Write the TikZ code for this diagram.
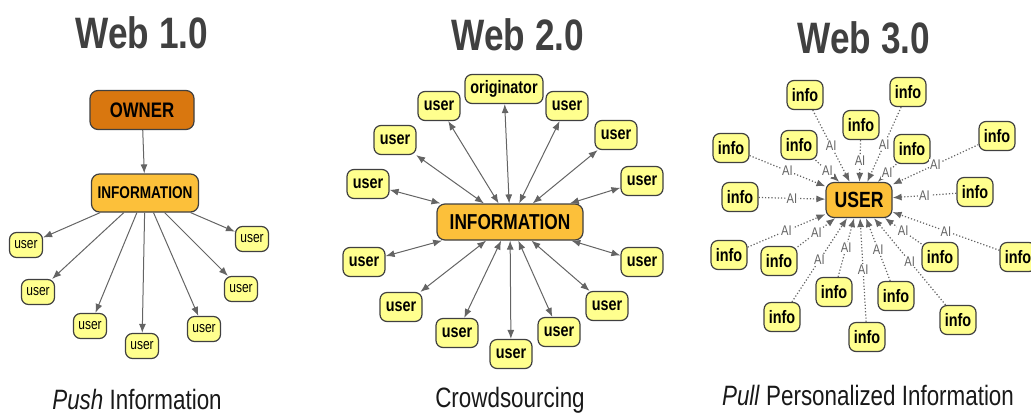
\documentclass[tikz,border=0pt]{standalone}
\usepackage{fontspec}
\setmainfont{Liberation Sans}[FakeStretch=0.8]
\usetikzlibrary{arrows.meta}
\definecolor{OwnerOrange}{RGB}{217,119,15}
\definecolor{InfoGold}{RGB}{252,192,58}
\definecolor{NoteYellow}{RGB}{255,255,142}
\definecolor{EdgeGray}{RGB}{100,100,100}
\definecolor{TitleGray}{RGB}{64,64,64}

\begin{document}
\begin{tikzpicture}[x=0.5pt,y=-0.5pt,>={Latex[length=4.5pt,width=3.5pt]},
  box/.style={draw=black!75,line width=.6pt,rounded corners=3.5pt,inner sep=0pt},
  owner/.style={box,fill=OwnerOrange,rounded corners=4pt,minimum width=52pt,minimum height=19.5pt,font=\bfseries\fontsize{10.5}{12}\selectfont},
  hub/.style={box,fill=InfoGold,rounded corners=4pt,minimum width=53.5pt,minimum height=19pt,font=\bfseries\fontsize{8.5}{10}\selectfont},
  leaf/.style={box,fill=NoteYellow,minimum width=21pt,minimum height=14.5pt,font=\bfseries\fontsize{9}{10}\selectfont},
  smallleaf/.style={box,fill=NoteYellow,minimum width=16.5pt,minimum height=12.5pt,font=\fontsize{7.5}{8}\selectfont},
  push/.style={->,EdgeGray,line width=.5pt},
  share/.style={<->,EdgeGray,line width=.5pt},
  pull/.style={->,EdgeGray,line width=.6pt,densely dotted},
  ailabel/.style={fill=white,inner sep=.5pt,text=EdgeGray,font=\fontsize{7}{8}\selectfont},
  heading/.style={anchor=base,text=TitleGray,font=\bfseries\fontsize{22}{26}\selectfont},
  caption/.style={anchor=base,text=black!90,font=\fontsize{14}{16}\selectfont}]
\useasboundingbox (0,0) rectangle (1031,413);

% Web 1.0
\node[heading] (webone) at (142,48) {Web 1.0};
\node[owner] (owner) at (142,110) {OWNER};
\node[hub] (infoone) at (145,193) {INFORMATION};
\draw[push] (owner) -- (infoone);
\foreach \i/\x/\y in {1/26/245,2/38/292,3/90/326,4/142/346,5/204/329,6/241/289,7/252/239}{
  \node[smallleaf] (oneuser\i) at (\x,\y) {user};
  \draw[push] (infoone) -- (oneuser\i);
}
\node[caption] (pushcap) at (137,409) {\textit{Push} Information};

% Web 2.0
\node[heading] (webtwo) at (518,50) {Web 2.0};
\node[hub,minimum width=73pt,minimum height=18pt,font=\bfseries\fontsize{10.8}{12}\selectfont] (infotwo) at (510,222) {INFORMATION};
\node[leaf,minimum width=39pt] (originator) at (504,89) {originator};
\draw[share] (infotwo) -- (originator);
\foreach \i/\x/\y in {1/439/106,2/395/140,3/368/184,4/364/262,5/401/307,6/457/333,7/511/354,
                      8/559/332,9/607/306,10/642/262,11/642/181,12/616/135,13/567/106}{
  \node[leaf] (twouser\i) at (\x,\y) {user};
  \draw[share] (infotwo) -- (twouser\i);
}
\node[caption] (crowdcap) at (510,407) {Crowdsourcing};

% Web 3.0
\node[heading] (webthree) at (864,53) {Web 3.0};
\node[hub,minimum width=33pt,minimum height=17.5pt,font=\bfseries\fontsize{11}{12}\selectfont] (userthree) at (859,200) {USER};
\foreach \i/\x/\y in {1/805/95,2/908/92,3/861/125,4/799/145,5/912/149,6/731/148,7/997/136,
                      8/740/197,9/975/192,10/729/255,11/779/261,12/940/257,13/1018/257,
                      14/834/292,15/896/296,16/782/317,17/958/320,18/867/337}{
  \node[leaf,minimum width=18pt] (info\i) at (\x,\y) {info};
  \draw[pull] (info\i) -- node[ailabel]{AI} (userthree);
}
\node[caption] (pullcap) at (868,405) {\textit{Pull} Personalized Information};
\end{tikzpicture}
\end{document}
